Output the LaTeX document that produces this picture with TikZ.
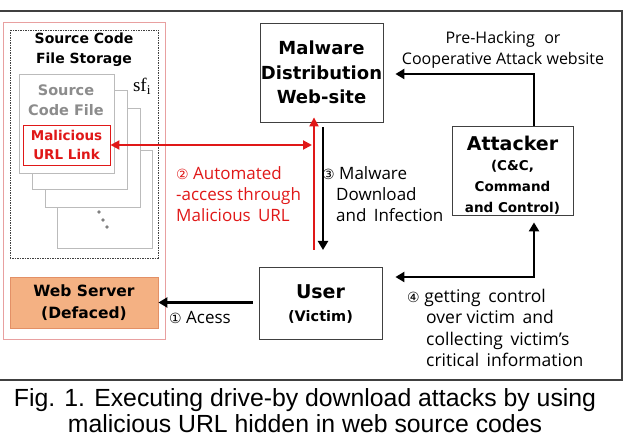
\documentclass[tikz,border=0pt]{standalone}
\usepackage{fontspec}
\setmainfont{Open Sans}[BoldFont={DejaVu Sans Bold}]
\newfontfamily\circfont{DejaVu Sans}
\newfontfamily\capfont{Liberation Sans}
\newfontfamily\seriffont{Liberation Serif}
\usetikzlibrary{arrows.meta}
\definecolor{redc}{HTML}{E01818}
\definecolor{lightred}{HTML}{E8A0A0}
\definecolor{filegray}{HTML}{BBBBBB}
\definecolor{txtgray}{HTML}{8C8C8C}
\definecolor{websrv}{HTML}{F4B183}
\definecolor{websrvb}{HTML}{E39066}
\definecolor{frame}{HTML}{404040}
\tikzset{
  box/.style={draw=black!75, line width=0.8pt, align=center, inner sep=0pt},
  filebox/.style={draw=filegray, line width=0.9pt, fill=white},
  arr/.style={line width=2.4pt, -{Triangle[length=9pt,width=10pt]}},
  darr/.style={line width=2.4pt, {Triangle[length=9pt,width=10pt]}-{Triangle[length=9pt,width=10pt]}},
  rarr/.style={line width=2pt, draw=redc, -{Triangle[length=9pt,width=9pt]}},
  rdarr/.style={line width=2pt, draw=redc, {Triangle[length=9pt,width=9pt]}-{Triangle[length=9pt,width=9pt]}},
  lbl/.style={align=left, inner sep=0pt, anchor=north west, font=\fontsize{17}{21}\selectfont},
  big/.style={inner sep=0pt, font=\fontsize{19}{24}\bfseries\selectfont},
  sub/.style={inner sep=0pt, align=center, font=\fontsize{13.5}{21}\bfseries\selectfont},
}
\begin{document}
\begin{tikzpicture}[x=1pt,y=-1pt]
\useasboundingbox (0,0) rectangle (642,443);
% outer frame
\draw[frame, line width=2pt] (-5,11) -- (622,11) -- (622,380) -- (-5,380);
% left red-ish region
\draw[lightred, line width=1pt] (3,23) rectangle (165,339);
\draw[black!75, line width=0.7pt, dash pattern=on 1.5pt off 1pt] (10,30) rectangle (158,258);
\node[sub, font=\fontsize{14}{20}\bfseries\selectfont] (stor) at (84,50) {Source Code\\File Storage};
% stacked files
\draw[filebox] (57,150) rectangle (152,248);
\draw[filebox] (45,108) rectangle (140,207);
\draw[filebox] (32,90) rectangle (127,189);
\draw[filebox] (19,74) rectangle (114,173);
\node[sub, font=\fontsize{14.5}{20}\bfseries\selectfont, text=txtgray] (scf) at (66,100) {Source\\Code File};
\node[draw=redc, line width=0.9pt, minimum width=87pt, minimum height=40pt, inner sep=0pt, text=redc, font=\fontsize{13.5}{19}\bfseries\selectfont, align=center] (url) at (66.5,145) {Malicious\\URL Link};
\node[inner sep=0pt, font=\seriffont\fontsize{19}{20}\selectfont] (sfi) at (142,86) {sf\textsubscript{i}};
\fill[gray] (99,212) circle (1.8pt) (103,220) circle (1.8pt) (107,227) circle (1.8pt);
% web server
\node[box, draw=websrvb, fill=websrv, minimum width=148pt, minimum height=51pt, font=\fontsize{15.5}{21.5}\bfseries\selectfont] (web) at (84,302.5) {Web Server\\(Defaced)};
% main boxes
\node[box, minimum width=123pt, minimum height=99pt, font=\fontsize{18}{24.5}\bfseries\selectfont] (mal) at (321.5,72.5) {Malware\\Distribution\\Web-site};
\node[box, minimum width=121pt, minimum height=89pt] (att) at (512.5,170.5) {};
\node[big] (attT) at (512.5,143) {Attacker};
\node[sub] (attS) at (512.5,187) {(C\&C,\\Command\\and Control)};
\node[box, minimum width=123pt, minimum height=72pt] (user) at (320.5,303) {};
\node[big] (userT) at (320.5,292) {User};
\node[sub, font=\fontsize{14.5}{20}\bfseries\selectfont] (userS) at (320.5,317) {(Victim)};
% coordinates
\coordinate (rb) at (314,250);
\coordinate (bb) at (323,250);
\coordinate (ph) at (534,74);
\coordinate (c4) at (534,277);
% connectors
\draw[arr, shorten <=6pt] (web.east -| user.west) -- (web.east);
\draw[rarr] (rb) -- ([yshift=5pt]rb |- mal.south);
\draw[rdarr, shorten >=2pt] (url.east) -- (url.east -| rb);
\draw[arr, shorten <=5pt] (bb |- mal.south) -- (bb);
\draw[arr, shorten >=12pt] (att.north -| ph) -- (ph) -- (ph -| mal.east);
\draw[darr, shorten <=7pt, shorten >=13pt] (att.south -| c4) -- (c4) -- (c4 -| user.east);
% labels
\node[lbl, text=redc] (l2) at (176,166) {{\circfont\fontsize{14}{21}\selectfont ②} Automated\\-access through\\Malicious\, URL};
\node[lbl] (l3) at (322,166) {{\circfont\fontsize{14}{21}\selectfont ③} Malware\\\hspace*{14pt}Download\\\hspace*{14pt}and\, Infection};
\node[lbl, font=\fontsize{17.5}{21.3}\selectfont] (l4) at (407,289) {{\circfont\fontsize{14}{21}\selectfont ④} getting\, control\\\hspace*{19pt}over victim\, and\\\hspace*{19pt}collecting\, victim’s\\\hspace*{19pt}critical\, information};
\node[lbl] (l1) at (169,311) {{\circfont\fontsize{14}{21}\selectfont ①} Acess};
\node[align=center, inner sep=0pt, font=\fontsize{16}{21}\selectfont] (lph) at (503,49.5) {Pre-Hacking\,\, or\\Cooperative Attack website};
% caption
\node[align=center, inner sep=0pt, font=\capfont\fontsize{24.8}{26}\selectfont] (cap) at (305,411) {Fig. 1. Executing drive-by download attacks by using\\malicious URL hidden in web source codes};
\end{tikzpicture}
\end{document}
